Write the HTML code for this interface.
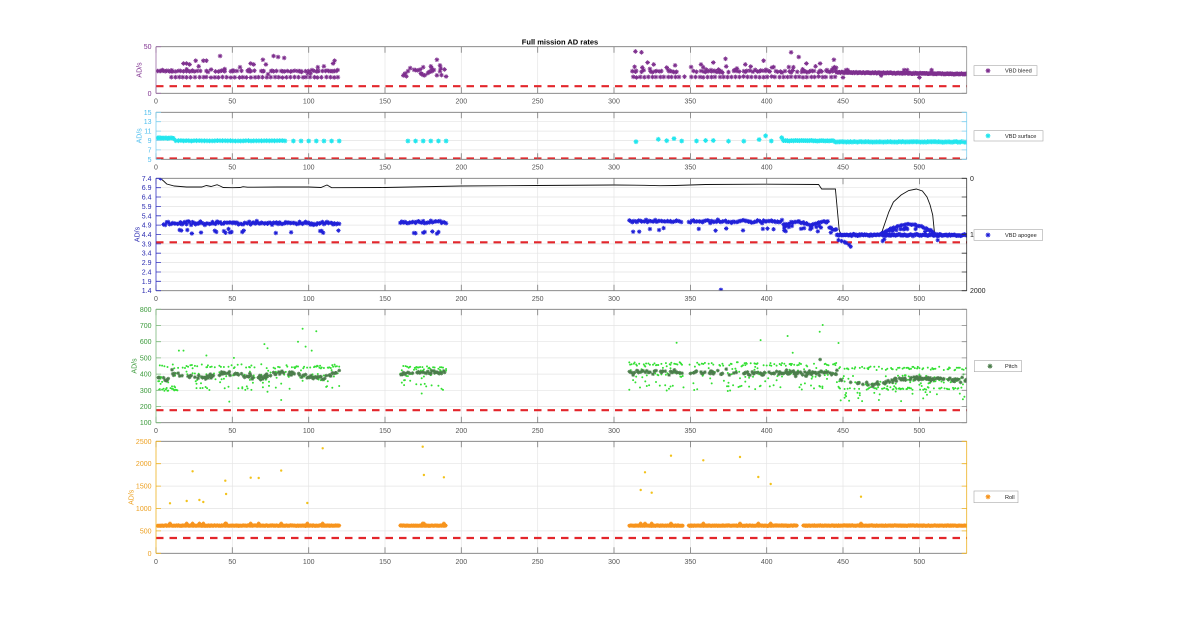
<!DOCTYPE html>
<html><head><meta charset="utf-8">
<style>
html,body{margin:0;padding:0;background:#fff;}
svg{display:block;font-family:"Liberation Sans",Arial,sans-serif;}
.xt text{font-size:7px;fill:#555;text-anchor:middle;}
.yt{font-size:7px;text-anchor:end;}
.yl{font-size:7px;text-anchor:middle;}
.lg{font-size:5.6px;fill:#222;}
</style></head>
<body>
<svg width="1200" height="622" viewBox="0 0 1200 622">
<defs>
<clipPath id="c0"><rect x="156" y="46.7" width="810.7" height="46.6"/></clipPath>
<clipPath id="c1"><rect x="156" y="112.3" width="810.7" height="47"/></clipPath>
<clipPath id="c2"><rect x="156" y="178.3" width="810.7" height="112.4"/></clipPath>
<clipPath id="c3"><rect x="156" y="309.3" width="810.7" height="113.4"/></clipPath>
<clipPath id="c4"><rect x="156" y="441.3" width="810.7" height="112"/></clipPath>
</defs>
<rect x="0" y="0" width="1200" height="622" fill="#fff"/>
<g id="plot"></g>

<text x="560" y="44.5" style="font-size:7.5px;font-weight:bold;text-anchor:middle;fill:#000">Full mission AD rates</text>

<g class="xt" transform="translate(0,103.5)"><text x="156">0</text><text x="232.3">50</text><text x="308.7">100</text><text x="385">150</text><text x="461.3">200</text><text x="537.7">250</text><text x="614">300</text><text x="690.3">350</text><text x="766.7">400</text><text x="843">450</text><text x="919.3">500</text></g>
<g class="xt" transform="translate(0,169.5)"><text x="156">0</text><text x="232.3">50</text><text x="308.7">100</text><text x="385">150</text><text x="461.3">200</text><text x="537.7">250</text><text x="614">300</text><text x="690.3">350</text><text x="766.7">400</text><text x="843">450</text><text x="919.3">500</text></g>
<g class="xt" transform="translate(0,301)"><text x="156">0</text><text x="232.3">50</text><text x="308.7">100</text><text x="385">150</text><text x="461.3">200</text><text x="537.7">250</text><text x="614">300</text><text x="690.3">350</text><text x="766.7">400</text><text x="843">450</text><text x="919.3">500</text></g>
<g class="xt" transform="translate(0,433)"><text x="156">0</text><text x="232.3">50</text><text x="308.7">100</text><text x="385">150</text><text x="461.3">200</text><text x="537.7">250</text><text x="614">300</text><text x="690.3">350</text><text x="766.7">400</text><text x="843">450</text><text x="919.3">500</text></g>
<g class="xt" transform="translate(0,564)"><text x="156">0</text><text x="232.3">50</text><text x="308.7">100</text><text x="385">150</text><text x="461.3">200</text><text x="537.7">250</text><text x="614">300</text><text x="690.3">350</text><text x="766.7">400</text><text x="843">450</text><text x="919.3">500</text></g>

<g class="yt" fill="#7E2F8E"><text x="151.5" y="49.2">50</text><text x="151.5" y="95.8">0</text></g>
<text class="yl" fill="#7E2F8E" transform="translate(141.5,70) rotate(-90)">AD/s</text>

<g class="yt" fill="#4DBEEE"><text x="151.5" y="114.8">15</text><text x="151.5" y="124.2">13</text><text x="151.5" y="133.6">11</text><text x="151.5" y="143">9</text><text x="151.5" y="152.4">7</text><text x="151.5" y="161.8">5</text></g>
<text class="yl" fill="#4DBEEE" transform="translate(141.5,135.8) rotate(-90)">AD/s</text>

<g class="yt" fill="#2a2ab0"><text x="151.5" y="180.8">7.4</text><text x="151.5" y="190.2">6.9</text><text x="151.5" y="199.6">6.4</text><text x="151.5" y="208.9">5.9</text><text x="151.5" y="218.3">5.4</text><text x="151.5" y="227.6">4.9</text><text x="151.5" y="237">4.4</text><text x="151.5" y="246.4">3.9</text><text x="151.5" y="255.7">3.4</text><text x="151.5" y="265.1">2.9</text><text x="151.5" y="274.5">2.4</text><text x="151.5" y="283.8">1.9</text><text x="151.5" y="293.2">1.4</text></g>
<text class="yl" fill="#2a2ab0" transform="translate(139.5,234.5) rotate(-90)">AD/s</text>
<g style="font-size:7px;fill:#222"><text x="970" y="180.8">0</text><text x="970" y="237">1000</text><text x="970" y="293.2">2000</text></g>

<g class="yt" fill="#3a9a3a"><text x="151.5" y="311.8">800</text><text x="151.5" y="328">700</text><text x="151.5" y="344.2">600</text><text x="151.5" y="360.4">500</text><text x="151.5" y="376.6">400</text><text x="151.5" y="392.8">300</text><text x="151.5" y="409">200</text><text x="151.5" y="425.2">100</text></g>
<text class="yl" fill="#3a9a3a" transform="translate(136.5,366) rotate(-90)">AD/s</text>

<g class="yt" fill="#EDA020"><text x="151.5" y="443.8">2500</text><text x="151.5" y="466.2">2000</text><text x="151.5" y="488.6">1500</text><text x="151.5" y="511">1000</text><text x="151.5" y="533.4">500</text><text x="151.5" y="555.8">0</text></g>
<text class="yl" fill="#EDA020" transform="translate(133.5,497.3) rotate(-90)">AD/s</text>

<!-- legends -->
<rect x="974" y="65.7" width="63" height="10" fill="#fff" stroke="#a8a8a8" stroke-width="0.6"/>
<path d="M985.6 70.7h4.8M988 68.3v4.8M986.3 69l3.4 3.4M986.3 72.4l3.4 -3.4" stroke="#7E2F8E" stroke-width="1" fill="none"/>
<text class="lg" x="1005" y="72.7">VBD bleed</text>

<rect x="974" y="130.7" width="69" height="10.3" fill="#fff" stroke="#a8a8a8" stroke-width="0.6"/>
<path d="M985.6 135.8h4.8M988 133.4v4.8M986.3 134.1l3.4 3.4M986.3 137.5l3.4 -3.4" stroke="#22e6ee" stroke-width="1.1" fill="none"/>
<text class="lg" x="1005" y="137.8">VBD surface</text>

<rect x="974" y="229.7" width="68.7" height="10.6" fill="#fff" stroke="#a8a8a8" stroke-width="0.6"/>
<path d="M985.6 235h4.8M988 232.6v4.8M986.3 233.3l3.4 3.4M986.3 236.7l3.4 -3.4" stroke="#2020d8" stroke-width="1" fill="none"/>
<text class="lg" x="1005" y="237">VBD apogee</text>

<rect x="974.3" y="360.7" width="47.4" height="11" fill="#fff" stroke="#a8a8a8" stroke-width="0.6"/>
<path d="M987.6 366.2h4.8M990 363.8v4.8M988.3 364.5l3.4 3.4M988.3 367.9l3.4 -3.4" stroke="#4b7d4b" stroke-width="1" fill="none"/>
<text class="lg" x="1005" y="368.2">Pitch</text>

<rect x="974" y="491" width="44" height="11.7" fill="#fff" stroke="#a8a8a8" stroke-width="0.6"/>
<path d="M985.6 496.8h4.8M988 494.4v4.8M986.3 495.1l3.4 3.4M986.3 498.5l3.4 -3.4" stroke="#F7941D" stroke-width="1" fill="none"/>
<text class="lg" x="1005" y="498.8">Roll</text>
</svg>

<script>
(function(){
function rng(a){return function(){a|=0;a=a+0x6D2B79F5|0;var t=Math.imul(a^a>>>15,1|a);t=t+Math.imul(t^t>>>7,61|t)^t;return((t^t>>>14)>>>0)/4294967296;};}
var R=rng(12345);
function n(s){return (R()+R()+R()-1.5)*s;}
var L=156,RT=966.7,XM=531;
function X(v){return L+v*(RT-L)/XM;}
var P=[[46.7,93.3,0,50],[112.3,159.3,5,15],[178.3,290.7,1.4,7.4],[309.3,422.7,100,800],[441.3,553.3,0,2500]];
function Y(i,v){var p=P[i];return p[1]-(v-p[2])/(p[3]-p[2])*(p[1]-p[0]);}
function f(v){return (Math.round(v*10)/10).toString();}
function stars(arr,i,h){var s='',d=h*0.7;for(var k=0;k<arr.length;k++){var x=X(arr[k][0]),y=Y(i,arr[k][1]);
 s+='M'+f(x-h)+' '+f(y)+'h'+f(2*h)+'M'+f(x)+' '+f(y-h)+'v'+f(2*h)+'M'+f(x-d)+' '+f(y-d)+'l'+f(2*d)+' '+f(2*d)+'M'+f(x-d)+' '+f(y+d)+'l'+f(2*d)+' '+f(-2*d);}return s;}
function dots(arr,i,r){var s='';for(var k=0;k<arr.length;k++){var x=X(arr[k][0]),y=Y(i,arr[k][1]);
 s+='M'+f(x-r)+' '+f(y)+'a'+r+' '+r+' 0 1 0 '+(2*r)+' 0a'+r+' '+r+' 0 1 0 '+(-2*r)+' 0';}return s;}
function seg(a,b,st,fn){for(var x=a;x<=b+1e-9;x+=st)fn(x);}
var out='';
var XT=[0,50,100,150,200,250,300,350,400,450,500];
var YT=[[0,50],[5,7,9,11,13,15],[],[100,200,300,400,500,600,700,800],[0,500,1000,1500,2000,2500]];
for(var v=1.4;v<7.45;v+=0.5)YT[2].push(v);
var g='';
for(var i=0;i<5;i++){var t=P[i][0],b=P[i][1];
 XT.forEach(function(v){if(v>0)g+='M'+f(X(v))+' '+t+'V'+b;});
 YT[i].forEach(function(v){var y=Y(i,v);if(y>t+0.5&&y<b-0.5)g+='M'+L+' '+f(y)+'H'+RT;});
}
out+='<path d="'+g+'" stroke="#e4e4e4" stroke-width="0.7" fill="none"/>';

function clipG(i,inner){out+='<g clip-path="url(#c'+i+')">'+inner+'</g>';}
function red(y){return '<path d="M156 '+y+'H966.7" stroke="#e3262b" stroke-width="2.2" stroke-dasharray="7.5 6" fill="none"/>';}

// Panel 1
var p1=[];
seg(1,120,1,function(x){
 if(x<12||R()<0.5)p1.push([x,23.8+n(0.5)]);
});
seg(10,120,2.6,function(x){p1.push([x+n(0.5),17.2+n(0.3)]);});
seg(1,120,1,function(x){if(R()<0.18)p1.push([x+R()*0.5,20+R()*6]);});
[[18,32],[20,32],[22,31],[26,35],[28,29],[31,35],[33,35],[42,40],[45,26],[55,28],[62,32],[64,31],[70,36],[72,31],[77,40],[80,39],[84,38],[106,28],[110,29],[116,32],[117,35],[119,25]].forEach(function(p){p1.push(p);});
seg(161,190,1,function(x){if(R()<0.6)p1.push([x,18+R()*8]);if(R()<0.25)p1.push([x+0.5,20+R()*8]);});
p1.push([184,36],[186,30],[175,28],[180,29]);
seg(312,445,1,function(x){
 if(x>=346&&x<=349)return;
 if(R()<0.5)p1.push([x,23.5+n(1.2)]);
 if(R()<0.25)p1.push([x+0.5,24+R()*5]);
});
seg(312,445,2.6,function(x){if(x>=346&&x<=349)return;p1.push([x+n(0.5),17.5+n(0.4)]);});
[[314,45],[318,44],[322,33],[326,31],[340,30],[357,31],[365,33],[373,37],[386,31],[398,35],[416,44],[421,39],[426,32],[432,29],[435,32],[444,36]].forEach(function(p){p1.push(p);});
seg(446,531,0.6,function(x){p1.push([x,22.5-(x-446)*0.022+n(0.5)]);});
[[452,25],[453,25],[490,25],[492,25],[508,25],[450,17],[500,17],[475,19]].forEach(function(p){p1.push(p);});
clipG(0,red(86.2)+'<path d="'+stars(p1,0,2.3)+'" stroke="#7E2F8E" stroke-width="0.9" fill="none"/>');

// Panel 2
var p2=[];
seg(1,12,0.8,function(x){p2.push([x,9.5+n(0.12)]);});
seg(13,85,1.7,function(x){p2.push([x,8.95+n(0.06)]);});
seg(90,120,5,function(x){p2.push([x,8.9]);});
seg(165,190,5,function(x){p2.push([x,8.9]);});
[[314.4,8.75],[329,9.25],[334.5,8.96],[339.3,9.4],[344.3,8.9],[354,8.9],[360,9.0],[365,9.0],[375,8.85],[385,8.85],[395,9.2],[399.3,10.0],[403,8.9],[409.8,9.6]].forEach(function(p){p2.push(p);});
seg(411,444,1.3,function(x){p2.push([x,8.95+n(0.06)]);});
seg(445,531,0.9,function(x){p2.push([x,8.7+n(0.08)]);});
clipG(1,red(158.5)+'<path d="'+stars(p2,1,2.4)+'" stroke="#22e6ee" stroke-width="1.1" fill="none"/>');

// Panel 3
var p3=[[3,7.4],[370,1.45]];
seg(5,120,1,function(x){p3.push([x,5.0+n(0.1)]);if(R()<0.2)p3.push([x+0.5,4.55+n(0.15)]);});
seg(160,190,1,function(x){p3.push([x,5.05+n(0.08)]);if(R()<0.12)p3.push([x,4.5+n(0.1)]);});
seg(310,445,1,function(x){
 if(x>=345&&x<=348)return;
 var m=5.1;if(x>410)m=5.0+0.1*Math.sin(x/3);if(x>440)m=4.85-(x-440)*0.05;
 p3.push([x,m+n(0.08)]);
 if(R()<0.12)p3.push([x+0.5,4.65+n(0.1)]);
 if(x>410&&x<440&&R()<0.5)p3.push([x+0.5,4.8+n(0.1)]);
});
seg(446,531,0.6,function(x){p3.push([x,4.37+n(0.05)]);});
[[447,4.1],[449,4.05],[451,4.0],[452,3.95],[454,3.85],[455,3.75],[442,4.5],[512,4.1],[476,4.05],[477,4.15]].forEach(function(p){p3.push(p);});
seg(475,512,0.9,function(x){var s=Math.sin(Math.PI*(x-474)/38);p3.push([x,4.37+0.58*s+n(0.05)]);if(R()<0.5)p3.push([x,4.37+0.35*s+n(0.06)]);});
var bl=[[3,178.5],[5,181],[7,184],[12,186],[20,187],[30,187],[33,185.5],[36,186.5],[40,184.7],[42,186],[44,187.5],[50,187.7],[55,187.5],[57,186.7],[60,187.2],[80,187],[100,187],[108,187.5],[112,185],[115,187.7],[150,187.5],[200,186],[250,185.5],[300,185],[320,185.3],[330,185.7],[340,185.5],[350,185],[360,184.5],[400,184.2],[434,184.5],[436,189],[445,189],[447.5,230],[448.5,234],[475,234],[477,225],[480,212],[483,202],[488,195],[493,190.5],[498,189],[502,191],[505,197],[507,205],[508.7,215],[510,234],[531,234]];
var bd='';bl.forEach(function(p,k){bd+=(k?'L':'M')+f(X(p[0]))+' '+p[1];});
clipG(2,red(242.3)+'<path d="'+bd+'" stroke="#111" stroke-width="0.9" fill="none"/>'+'<path d="'+stars(p3,2,2.2)+'" stroke="#2020d8" stroke-width="0.9" fill="none"/>');

// Panel 4
var g4=[],s4=[];
function pseg(a,b,fm){seg(a,b,0.5,function(x){
 if(x>=346&&x<=349)return;
 var o=fm(x);
 if(R()<0.5)s4.push([x,o.s+n(16)]);
 if(R()<0.35)g4.push([x,o.u+n(12)]);
 if(R()<0.3)g4.push([x,o.s+n(35)]);
 if(R()<o.pl)g4.push([x,o.lo+n(10)]);
 if(R()<0.12)g4.push([x,o.lo-30+R()*80]);
 if(o.ex&&R()<o.ex)g4.push([x,230+R()*60]);
});}
pseg(1,120,function(x){return {s:(x<10?372:392+12*Math.sin(x/6)),u:445,lo:(x<15?305:320),pl:(x<15?0.6:0.08)};});
pseg(160,190,function(x){return {s:405+10*(x-160)/30,u:440,lo:330,pl:0.05};});
pseg(310,446,function(x){return {s:415-(x-310)*0.08,u:460,lo:325,pl:0.1};});
pseg(447,531,function(x){var s=x<470?370-(x-447)*1.5:(x<490?335+(x-470)*2:375-(x-490)*0.3);return {s:s,u:437,lo:312,pl:0.3,ex:(x<480?0.15:0.08)};});
[[15,545],[18,545],[33,515],[51,500],[71,585],[73,560],[93,600],[96,680],[98,570],[102,545],[105,665],[48,230],[82,240],[341,593],[396,610],[413.7,635],[417,532],[436.7,703],[434.7,662],[447,592],[174,280],[187,310]].forEach(function(p){g4.push(p);});
s4.push([435,490]);
clipG(3,red(410.2)+'<path d="'+dots(g4,3,1)+'" fill="#33e033"/>'+'<path d="'+stars(s4,3,1.9)+'" stroke="#4b7d4b" stroke-width="0.8" fill="none"/>');

// Panel 5
var o5=[];
function rseg(a,b){seg(a,b,0.35,function(x){o5.push([x,618+n(7)]);});}
rseg(1,120);rseg(160,190);rseg(310,345);rseg(349,420);rseg(424,531);
var yo=[[9.2,1116],[20.1,1167],[24,1830],[28.4,1190],[31,1145],[45.4,1620],[45.9,1323],[62,1688],[67.3,1680],[82,1845],[99.1,1122],[109.2,2343],[174.7,2380],[175.5,1748],[188.6,1696],[317.5,1413],[320.3,1808],[324.7,1353],[337.3,2179],[358.5,2076],[382.5,2150],[394.5,1703],[402.6,1547],[461.8,1264]];
yo.forEach(function(p){if(p[0]>5){o5.push([p[0],665]);}});
clipG(4,red(538)+'<path d="'+stars(o5,4,2)+'" stroke="#F7941D" stroke-width="0.9" fill="none"/>'+'<path d="'+dots(yo,4,1.2)+'" fill="#F2C21B"/>');

// axes frames & ticks
var COL=['#9a6aa4','#7fd0f0','#3333c0','#7ab87a','#EDB120'];
var RC=['#8a8a8a','#7fd0f0','#333','#8a8a8a','#EDB120'];
for(var i=0;i<5;i++){var t=P[i][0],b=P[i][1];
 var xd='M'+L+' '+t+'H'+RT+'M'+L+' '+b+'H'+RT;
 XT.forEach(function(v){var x=f(X(v));xd+='M'+x+' '+b+'v-6M'+x+' '+t+'v6';});
 out+='<path d="'+xd+'" stroke="#7a7a7a" stroke-width="0.8" fill="none"/>';
 var ld='M'+L+' '+t+'V'+b,rd='M'+RT+' '+t+'V'+b;
 YT[i].forEach(function(v){var y=f(Y(i,v));ld+='M'+L+' '+y+'h5';if(i!==2)rd+='M'+RT+' '+y+'h-5';});
 if(i===2){for(var k=0;k<=6;k++){var y=f(t+k*(b-t)/6);rd+='M'+RT+' '+y+'h-5';}}
 out+='<path d="'+ld+'" stroke="'+COL[i]+'" stroke-width="0.8" fill="none"/>';
 out+='<path d="'+rd+'" stroke="'+RC[i]+'" stroke-width="0.8" fill="none"/>';
}
document.getElementById('plot').innerHTML=out;
})();
</script>
</body></html>
